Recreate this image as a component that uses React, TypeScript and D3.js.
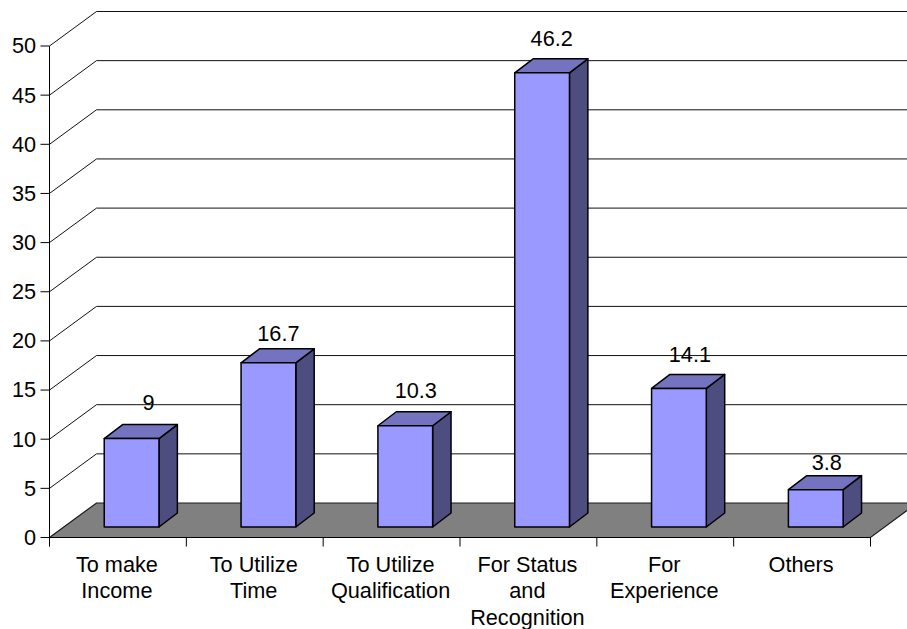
import React from "react";
import * as d3 from "d3";

const categories = [
  ["To make", "Income"],
  ["To Utilize", "Time"],
  ["To Utilize", "Qualification"],
  ["For Status", "and", "Recognition"],
  ["For", "Experience"],
  ["Others"],
];
const values = [9, 16.7, 10.3, 46.2, 14.1, 3.8];
const valueLabels = ["9", "16.7", "10.3", "46.2", "14.1", "3.8"];
const yTicks = [0, 5, 10, 15, 20, 25, 30, 35, 40, 45, 50];

// Hand-placed data label nudges: horizontal from the bar centre, vertical above the bar's back edge
const labelDx = [17, 10, 10.5, 9.6, 11, 11];
const labelDy = [14.6, 8, 14, 12.7, 12, 6];

const width = 907;
const height = 629;
const FONT = "'Liberation Sans', Arial, sans-serif";
const FONT_SIZE = 21.7;
const left = 49.5;
const right = 870.5;
const depthX = 47;
const depthY = 34.5;

const y = d3.scaleLinear().domain([0, 50]).range([537.5, 46]);
const x = d3.scaleBand<number>().domain(d3.range(values.length)).range([left, right]);
const barW = x.bandwidth() * 0.4;
const barDx = 18.4;
const barDy = 14;
const barLift = 10.5;

const poly = (pts: [number, number][]) => (d3.line()(pts) ?? "") + "Z";

export default function App() {
  return (
    <svg
      width={width}
      height={height}
      style={{ position: "absolute", left: 0, top: 0, background: "#fff" }}
      fontFamily={FONT}
    >
      {/* back wall grid, running from the axis to the rear plane */}
      {yTicks.slice(1).map((t) => (
        <path
          key={t}
          d={d3.line()([
            [left, y(t)],
            [left + depthX, y(t) - depthY],
            [width, y(t) - depthY],
          ]) ?? ""}
          fill="none"
          stroke="#111"
          strokeWidth={1}
        />
      ))}

      {/* floor */}
      <path
        d={poly([
          [left, y(0)],
          [left + depthX, y(0) - depthY],
          [width + 10, y(0) - depthY],
          [right, y(0)],
        ])}
        fill="#808080"
        stroke="#1a1a1a"
        strokeWidth={1.2}
      />

      {/* value axis */}
      <line x1={left} x2={left} y1={y(50)} y2={y(0) + 9} stroke="#000" />
      {yTicks.map((t) => (
        <g key={t}>
          <line x1={left - 9} x2={left} y1={y(t)} y2={y(t)} stroke="#000" />
          <text x={36} y={y(t) + 7.4} fontSize={FONT_SIZE} textAnchor="end" fill="#000">
            {t}
          </text>
        </g>
      ))}

      {/* category axis */}
      <line x1={left} x2={right} y1={y(0)} y2={y(0)} stroke="#000" />
      {d3.range(values.length + 1).map((i) => {
        const tx = left + i * x.step();
        return <line key={i} x1={tx} x2={tx} y1={y(0)} y2={y(0) + 9} stroke="#000" />;
      })}
      {categories.map((lines, i) => (
        <text key={i} fontSize={FONT_SIZE} textAnchor="middle" fill="#000">
          {lines.map((l, j) => (
            <tspan key={j} x={(x(i) ?? 0) + x.bandwidth() / 2 - 1} y={571.5 + j * 26.5}>
              {l}
            </tspan>
          ))}
        </text>
      ))}

      {/* 3D bars */}
      {values.map((v, i) => {
        const x0 = (x(i) ?? 0) + x.bandwidth() * 0.4;
        const x1 = x0 + barW;
        const yb = y(0) - barLift;
        const yt = y(v) - barLift;
        return (
          <g key={i} stroke="#000" strokeWidth={1.5} strokeLinejoin="round">
            <path
              d={poly([
                [x1, yt],
                [x1 + barDx, yt - barDy],
                [x1 + barDx, yb - barDy],
                [x1, yb],
              ])}
              fill="#4d4d80"
            />
            <path
              d={poly([
                [x0, yt],
                [x0 + barDx, yt - barDy],
                [x1 + barDx, yt - barDy],
                [x1, yt],
              ])}
              fill="#7373bf"
            />
            <rect x={x0} y={yt} width={barW} height={yb - yt} fill="#9999ff" />
          </g>
        );
      })}

      {/* data labels */}
      {values.map((v, i) => {
        const cx = (x(i) ?? 0) + x.bandwidth() * 0.6;
        return (
          <text
            key={i}
            x={cx + labelDx[i]}
            y={y(v) - barLift - barDy - labelDy[i]}
            fontSize={FONT_SIZE}
            textAnchor="middle"
            fill="#000"
          >
            {valueLabels[i]}
          </text>
        );
      })}
    </svg>
  );
}
